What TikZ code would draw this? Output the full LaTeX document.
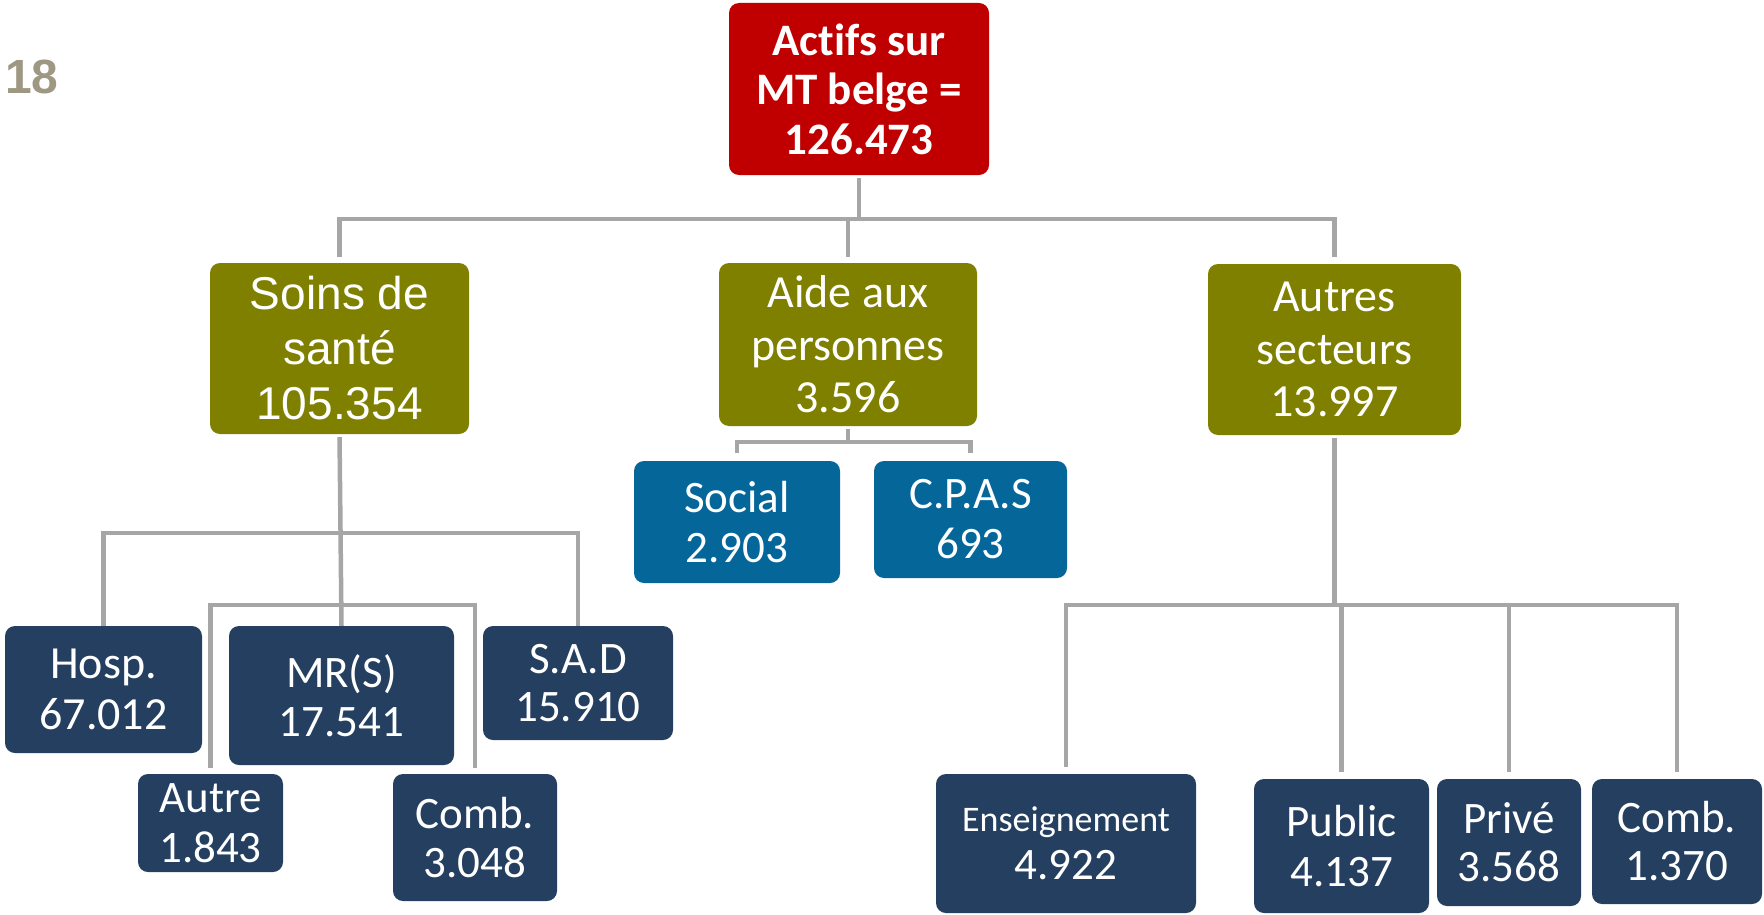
\documentclass[tikz,border=0pt]{standalone}
\usepackage{fontspec}
\setmainfont{Carlito}[Ligatures=NoCommon]
\newfontfamily\arialfont{Liberation Sans}
\pgfdeclarelayer{background}
\pgfsetlayers{background,main}
\definecolor{rootred}{HTML}{C00000}
\definecolor{olive}{HTML}{808000}
\definecolor{tealblue}{HTML}{05669A}
\definecolor{navy}{HTML}{243F60}
\definecolor{linegray}{HTML}{A6A6A6}
\definecolor{numgray}{HTML}{9E9781}
\tikzset{
  box/.style={rectangle, rounded corners=10pt, inner sep=0pt, align=center, text=white},
  rootbox/.style={box, fill=rootred, font=\bfseries\fontsize{45}{49.5}\selectfont},
  greenbox/.style={box, fill=olive, font=\fontsize{46}{52.5}\selectfont},
  bluebox/.style={box, fill=tealblue, font=\fontsize{45}{49.5}\selectfont},
  navybox/.style={box, fill=navy, font=\fontsize{45}{49.5}\selectfont},
  conn/.style={draw=linegray, line width=4.5pt}
}
\begin{document}
\begin{tikzpicture}[x=1pt,y=-1pt]
\useasboundingbox (0,0) rectangle (1764,915);
\node[anchor=base west, inner sep=0pt, text=numgray, font=\arialfont\bfseries\fontsize{48}{56}\selectfont] (pg) at (5,94) {18};
% level 0
\node[rootbox, minimum width=260pt, minimum height=172pt] (r) at (859,89) {Actifs sur\\MT belge =\\126.473};
% level 1
\node[greenbox, minimum width=259pt, minimum height=171pt, font=\arialfont\fontsize{46}{55}\selectfont] (s) at (339.5,348.5) {Soins de\\santé\\105.354};
\node[greenbox, minimum width=258pt, minimum height=163pt] (a) at (848,344.5) {Aide aux\\personnes\\3.596};
\node[greenbox, minimum width=253pt, minimum height=171pt] (o) at (1334.5,349.5) {Autres\\secteurs\\13.997};
% soins subtree
\node[navybox, minimum width=197pt, minimum height=127pt, font=\fontsize{46}{51}\selectfont] (hosp) at (103.5,689.5) {Hosp.\\67.012};
\node[navybox, minimum width=225pt, minimum height=139pt] (mrs) at (341.5,695.5) {MR(S)\\17.541};
\node[navybox, minimum width=190pt, minimum height=114pt, font=\fontsize{45}{48}\selectfont] (sad) at (578,683) {S.A.D\\15.910};
\node[navybox, minimum width=145pt, minimum height=98pt] (autre) at (210.5,823) {Autre\\1.843};
\node[navybox, minimum width=164pt, minimum height=127pt] (combA) at (475,837.5) {Comb.\\3.048};
% aide subtree
\node[bluebox, minimum width=206pt, minimum height=122pt] (social) at (737,522) {Social\\2.903};
\node[bluebox, minimum width=193pt, minimum height=117pt, font=\fontsize{45}{50}\selectfont] (cpas) at (970.5,519.5) {C.P.A.S\\693};
% autres subtree
\node[navybox, minimum width=260pt, minimum height=139pt, font=\fontsize{45}{48}\selectfont] (ens) at (1066,843.5) {{\fontsize{36}{48}\selectfont Enseignement}\\4.922};
\node[navybox, minimum width=175pt, minimum height=134pt] (pub) at (1341.5,846) {Public\\4.137};
\node[navybox, minimum width=144pt, minimum height=127pt, font=\fontsize{45}{48}\selectfont] (priv) at (1509,842.5) {Privé\\3.568};
\node[navybox, minimum width=170pt, minimum height=125pt, font=\fontsize{45}{48}\selectfont] (combB) at (1677,841.5) {Comb.\\1.370};
\begin{pgfonlayer}{background}
\coordinate (b0) at (859,219);
\draw[conn, shorten <=3pt] (r.south) -- (b0);
\draw[conn, shorten >=6pt] (b0) -| (s.north);
\draw[conn, shorten >=6pt] (b0) -| (a.north);
\draw[conn, shorten >=7pt] (b0) -| (o.north);
\coordinate (b1) at (339.5,533);
\coordinate (b2) at (339.5,605);
\draw[conn, shorten <=3pt] (s.south) -- (mrs.north);
\draw[conn] (b1) -| (hosp.north);
\draw[conn] (b1) -| (sad.north);
\draw[conn, shorten >=6pt] (b2) -| (autre.north);
\draw[conn, shorten >=6pt] (b2) -| (combA.north);
\coordinate (b3) at (848,442);
\draw[conn, shorten <=3pt] (a.south) -- (b3);
\draw[conn, shorten >=8pt] (b3) -| (social.north);
\draw[conn, shorten >=8pt] (b3) -| (cpas.north);
\coordinate (b4) at (1334.5,605);
\draw[conn, shorten <=3pt] (o.south) -- (b4);
\draw[conn, shorten >=7pt] (b4) -| (ens.north);
\draw[conn, shorten >=7pt] (b4) -| (pub.north);
\draw[conn, shorten >=7pt] (b4) -| (priv.north);
\draw[conn, shorten >=7pt] (b4) -| (combB.north);
\end{pgfonlayer}
\end{tikzpicture}
\end{document}
